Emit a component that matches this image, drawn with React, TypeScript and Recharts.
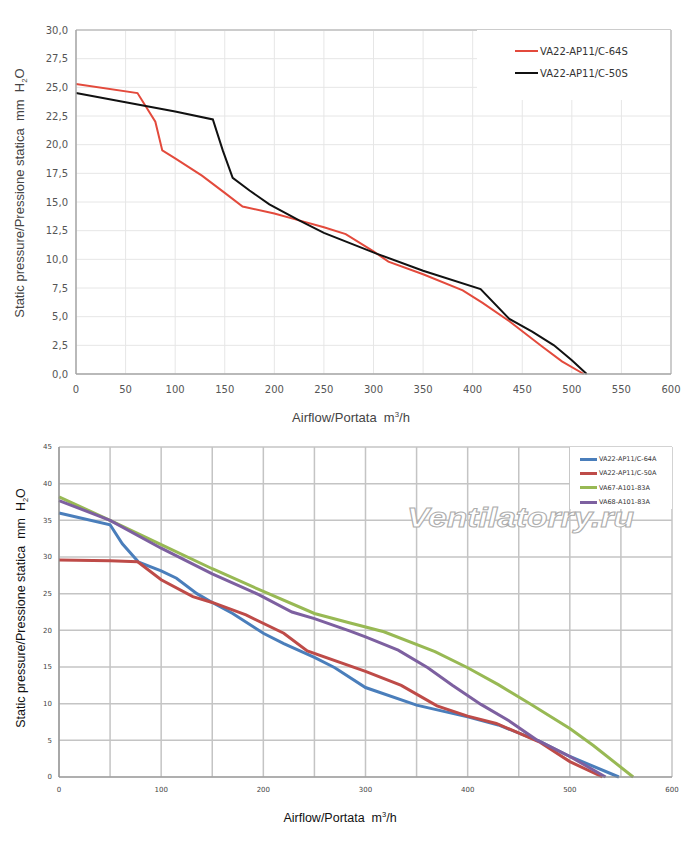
import { LineChart, Line, XAxis, YAxis, CartesianGrid, Legend, Label, ReferenceLine } from 'recharts'

// top chart: VA22-AP11/C ..S
const topSeriesNames = ['VA22-AP11/C-64S', 'VA22-AP11/C-50S']
const topFlowTicks = [0, 50, 100, 150, 200, 250, 300, 350, 400, 450, 500, 550, 600]
const topPressureTicks = [0, 2.5, 5, 7.5, 10, 12.5, 15, 17.5, 20, 22.5, 25, 27.5, 30]

const flow64S = [0, 62, 80, 87, 100, 127, 150, 168, 200, 225, 250, 272, 300, 315, 350, 390, 410, 437, 470, 490, 512]
const pressure64S = [25.3, 24.5, 22.0, 19.5, 18.8, 17.3, 15.8, 14.6, 14.0, 13.4, 12.8, 12.2, 10.7, 9.8, 8.7, 7.3, 6.2, 4.6, 2.4, 1.1, 0]

const flow50S = [0, 50, 100, 138, 148, 158, 175, 195, 225, 250, 303, 350, 408, 437, 460, 482, 500, 515]
const pressure50S = [24.5, 23.7, 22.9, 22.2, 19.5, 17.1, 16.0, 14.8, 13.4, 12.3, 10.5, 9.0, 7.4, 4.8, 3.7, 2.5, 1.2, 0]

// bottom chart: ..A models
const bottomSeriesNames = ['VA22-AP11/C-64A', 'VA22-AP11/C-50A', 'VA67-A101-83A', 'VA68-A101-83A']
const bottomFlowTicks = [0, 50, 100, 150, 200, 250, 300, 350, 400, 450, 500, 550, 600]
const bottomPressureTicks = [0, 5, 10, 15, 20, 25, 30, 35, 40, 45]

const flow64A = [0, 50, 62, 78, 100, 115, 135, 150, 170, 200, 220, 250, 270, 300, 350, 400, 430, 470, 500, 548]
const pressure64A = [36.0, 34.4, 31.8, 29.3, 28.1, 27.1, 25.0, 23.8, 22.3, 19.6, 18.2, 16.3, 14.9, 12.2, 9.8, 8.2, 7.1, 4.9, 2.8, 0]

const flow50A = [0, 50, 77, 100, 131, 150, 183, 220, 243, 300, 335, 370, 400, 428, 470, 500, 532]
const pressure50A = [29.6, 29.5, 29.35, 26.9, 24.6, 23.8, 22.1, 19.6, 17.2, 14.4, 12.5, 9.7, 8.3, 7.3, 4.8, 2.1, 0]

const flowA67 = [0, 50, 100, 150, 200, 250, 285, 318, 368, 400, 430, 461, 500, 523, 562]
const pressureA67 = [38.2, 35.0, 31.7, 28.4, 25.3, 22.3, 21.0, 19.8, 17.1, 14.9, 12.6, 10.0, 6.6, 4.3, 0]

const flowA68 = [0, 50, 100, 150, 195, 228, 250, 285, 300, 332, 361, 385, 413, 440, 467, 500, 535]
const pressureA68 = [37.7, 35.0, 31.2, 27.7, 24.9, 22.5, 21.6, 19.9, 19.1, 17.3, 14.9, 12.5, 9.9, 7.7, 5.1, 2.8, 0]

const toPoints = (flow: number[], pressure: number[]) =>
  flow.map((q, i) => ({ flow: q, pressure: pressure[i] }))

const TITLE_FONT = '"Liberation Sans", Arial, sans-serif'
const TICK_FONT = '"DejaVu Sans", Verdana, sans-serif'

const comma = (v: number) => v.toFixed(1).replace('.', ',')

function PressureTitle({ x, y, size, color }: { x: number; y: number; size: number; color: string }) {
  return (
    <text
      transform={`translate(${x},${y}) rotate(-90)`}
      textAnchor="middle"
      fontFamily={TITLE_FONT}
      fontSize={size}
      fill={color}
      style={{ whiteSpace: 'pre' }}
    >
      Static pressure/Pressione statica  mm  H
      <tspan fontSize={size * 0.6} dy={size * 0.25}>2</tspan>
      <tspan dy={-size * 0.25}>O</tspan>
    </text>
  )
}

function FlowTitle({ x, y, size, color }: { x: number; y: number; size: number; color: string }) {
  return (
    <text x={x} y={y} textAnchor="middle" fontFamily={TITLE_FONT} fontSize={size} fill={color} style={{ whiteSpace: 'pre' }}>
      Airflow/Portata  m
      <tspan fontSize={size * 0.6} dy={-size * 0.4}>3</tspan>
      <tspan dy={size * 0.4}>/h</tspan>
    </text>
  )
}

function BoxLegend(props: any) {
  const { payload, order, rowHeight, lineWidth, lineThick, fontSize, padTop, padLeft, color } = props
  const items = [...(payload || [])].sort((a: any, b: any) => order.indexOf(a.value) - order.indexOf(b.value))
  return (
    <div style={{ background: '#fff', width: '100%', height: '100%', boxSizing: 'border-box', paddingTop: padTop, paddingLeft: padLeft }}>
      {items.map((entry: any) => (
        <div key={entry.value} style={{ display: 'flex', alignItems: 'center', height: rowHeight }}>
          <span style={{ display: 'inline-block', width: lineWidth, height: lineThick, background: entry.color, marginRight: 2 }} />
          <span style={{ fontFamily: TICK_FONT, fontSize, color, whiteSpace: 'nowrap' }}>{entry.value}</span>
        </div>
      ))}
    </div>
  )
}

function TopChart() {
  return (
    <LineChart width={700} height={430} margin={{ top: 30, right: 29, bottom: 0, left: 0 }}>
      <CartesianGrid stroke="#e6e6e6" strokeWidth={1} />
      <XAxis
        type="number"
        dataKey="flow"
        domain={[0, 600]}
        ticks={topFlowTicks}
        height={56}
        tickLine={false}
        tickMargin={6}
        axisLine={{ stroke: '#a6a6a6', strokeWidth: 1.5 }}
        tick={{ fontFamily: TICK_FONT, fontSize: 10, fill: '#555' }}
      >
        <Label content={() => <FlowTitle x={351} y={422} size={13} color="#444" />} />
      </XAxis>
      <YAxis
        type="number"
        domain={[0, 30]}
        ticks={topPressureTicks}
        width={76}
        tickLine={false}
        tickMargin={2}
        tickFormatter={comma}
        axisLine={{ stroke: '#a6a6a6', strokeWidth: 1.5 }}
        tick={{ fontFamily: TICK_FONT, fontSize: 10, fill: '#555' }}
      >
        <Label content={() => <PressureTitle x={24} y={193} size={13} color="#444" />} />
      </YAxis>
      <ReferenceLine y={30} stroke="#cccccc" strokeWidth={2} />
      <ReferenceLine x={600} stroke="#cccccc" strokeWidth={2} />
      <Legend
        layout="horizontal"
        verticalAlign="middle"
        align="center"
        wrapperStyle={{ left: 477, top: 30, width: 193, height: 70 }}
        content={(p: any) => (
          <BoxLegend {...p} order={topSeriesNames} rowHeight={22} lineWidth={23} lineThick={2} fontSize={10} padTop={10} padLeft={38} color="#333" />
        )}
      />
      <Line data={toPoints(flow64S, pressure64S)} dataKey="pressure" name={topSeriesNames[0]} type="linear" stroke="#e34a3c" strokeWidth={2} dot={false} isAnimationActive={false} />
      <Line data={toPoints(flow50S, pressure50S)} dataKey="pressure" name={topSeriesNames[1]} type="linear" stroke="#111" strokeWidth={2} dot={false} isAnimationActive={false} />
    </LineChart>
  )
}

function BottomChart() {
  return (
    <LineChart width={700} height={414} margin={{ top: 17, right: 28, bottom: 0, left: 0 }}>
      <CartesianGrid stroke="#c4c4c4" strokeWidth={1.5} />
      <XAxis
        type="number"
        dataKey="flow"
        domain={[0, 600]}
        ticks={bottomFlowTicks}
        height={67}
        tickLine={false}
        tickMargin={4}
        tickFormatter={(v: number) => (v % 100 === 0 ? String(v) : '')}
        axisLine={{ stroke: '#8c8c8c', strokeWidth: 1.2 }}
        tick={{ fontFamily: TICK_FONT, fontSize: 7, fill: '#444' }}
      >
        <Label content={() => <FlowTitle x={340} y={392} size={12.5} color="#111" />} />
      </XAxis>
      <YAxis
        type="number"
        domain={[0, 45]}
        ticks={bottomPressureTicks}
        width={59}
        tickLine={false}
        tickMargin={1}
        axisLine={{ stroke: '#8c8c8c', strokeWidth: 1.2 }}
        tick={{ fontFamily: TICK_FONT, fontSize: 7, fill: '#444' }}
      >
        <Label content={() => <PressureTitle x={25} y={178} size={12.5} color="#111" />} />
      </YAxis>
      <Legend
        layout="horizontal"
        verticalAlign="middle"
        align="center"
        wrapperStyle={{ left: 570, top: 17, width: 102, height: 62 }}
        content={(p: any) => (
          <BoxLegend {...p} order={bottomSeriesNames} rowHeight={14.3} lineWidth={17} lineThick={3} fontSize={6.5} padTop={5} padLeft={10} color="#333" />
        )}
      />
      <Line data={toPoints(flow64A, pressure64A)} dataKey="pressure" name={bottomSeriesNames[0]} type="linear" stroke="#4a7ebb" strokeWidth={3} dot={false} isAnimationActive={false} />
      <Line data={toPoints(flow50A, pressure50A)} dataKey="pressure" name={bottomSeriesNames[1]} type="linear" stroke="#be4b48" strokeWidth={3} dot={false} isAnimationActive={false} />
      <Line data={toPoints(flowA67, pressureA67)} dataKey="pressure" name={bottomSeriesNames[2]} type="linear" stroke="#98b954" strokeWidth={3} dot={false} isAnimationActive={false} />
      <Line data={toPoints(flowA68, pressureA68)} dataKey="pressure" name={bottomSeriesNames[3]} type="linear" stroke="#7d60a0" strokeWidth={3} dot={false} isAnimationActive={false} />
    </LineChart>
  )
}

export default function App() {
  return (
    <div style={{ position: 'absolute', top: 0, left: 0, width: 700, height: 844, background: '#fff', overflow: 'hidden' }}>
      <div style={{ position: 'absolute', top: 0, left: 0 }}>
        <TopChart />
      </div>
      <div style={{ position: 'absolute', top: 430, left: 0 }}>
        <BottomChart />
      </div>
      <svg width={700} height={844} style={{ position: 'absolute', top: 0, left: 0, pointerEvents: 'none' }}>
        <text
          x={407}
          y={527}
          textLength={227}
          lengthAdjust="spacingAndGlyphs"
          fontFamily={TITLE_FONT}
          fontStyle="italic"
          fontWeight="bold"
          fontSize={28}
          fill="#fff"
          stroke="#adadad"
          strokeWidth={1}
        >
          Ventilatorry.ru
        </text>
      </svg>
    </div>
  )
}
